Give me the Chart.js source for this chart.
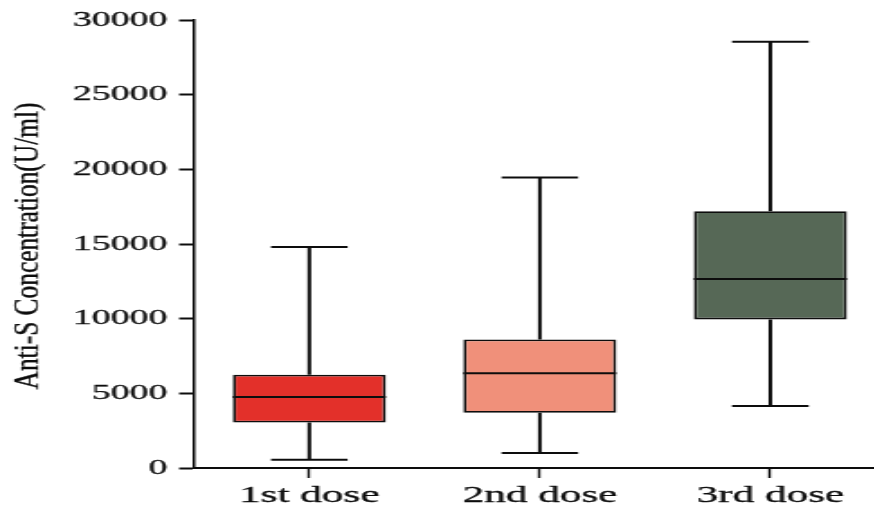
<!DOCTYPE html>
<html>
<head>
<meta charset="utf-8">
<script src="https://cdn.jsdelivr.net/npm/chart.js@4/dist/chart.umd.min.js"></script>
<style>
  html, body { margin: 0; padding: 0; background: #fff; overflow: hidden; width: 874px; height: 508px; }
  #wrap { position: absolute; left: 0; top: 0; transform: scaleX(1.8); transform-origin: 0 0; }
  canvas { display: block; }
</style>
</head>
<body>
<div id="wrap"><canvas id="c" width="493" height="508"></canvas></div>
<script>
// Anti-S antibody concentration (U/ml) by vaccine dose
const categories = ['1st dose', '2nd dose', '3rd dose'];
const whiskerLow = [550, 1000, 4150];
const quartile1 = [3050, 3700, 9950];
const medians = [4750, 6350, 12650];
const quartile3 = [6250, 8600, 17200];
const whiskerHigh = [14800, 19450, 28550];
const yTickValues = [0, 5000, 10000, 15000, 20000, 25000, 30000];
const boxColors = ['#E3302A', '#F0907A', '#566856'];
const yTitle = 'Anti-S Concentration(U/ml)';

const ink = '#0d0d0d';
const serif = "'Liberation Serif', 'Times New Roman', serif";

// whiskers and caps behind the boxes, medians on top
const boxPlotParts = {
  id: 'boxPlotParts',
  beforeDatasetsDraw(chart) {
    const y = chart.scales.y;
    const meta = chart.getDatasetMeta(0);
    const ctx = chart.ctx;
    ctx.save();
    ctx.strokeStyle = ink;
    meta.data.forEach((bar, i) => {
      const cx = bar.x;
      const capHalf = bar.width / 4;
      const pLow = y.getPixelForValue(whiskerLow[i]);
      const pQ1 = y.getPixelForValue(quartile1[i]);
      const pQ3 = y.getPixelForValue(quartile3[i]);
      const pHigh = y.getPixelForValue(whiskerHigh[i]);
      ctx.lineWidth = 2;
      ctx.beginPath();
      ctx.moveTo(cx, pQ3); ctx.lineTo(cx, pHigh);
      ctx.moveTo(cx, pQ1); ctx.lineTo(cx, pLow);
      ctx.stroke();
      ctx.lineWidth = 2;
      ctx.beginPath();
      ctx.moveTo(cx - capHalf, pHigh); ctx.lineTo(cx + capHalf, pHigh);
      ctx.moveTo(cx - capHalf, pLow); ctx.lineTo(cx + capHalf, pLow);
      ctx.stroke();
    });
    ctx.restore();
  },
  afterDatasetsDraw(chart) {
    const y = chart.scales.y;
    const meta = chart.getDatasetMeta(0);
    const ctx = chart.ctx;
    ctx.save();
    ctx.strokeStyle = ink;
    ctx.lineWidth = 2;
    meta.data.forEach((bar, i) => {
      const pMed = y.getPixelForValue(medians[i]);
      ctx.beginPath();
      ctx.moveTo(bar.x - bar.width / 2, pMed);
      ctx.lineTo(bar.x + bar.width / 2, pMed);
      ctx.stroke();
    });
    ctx.restore();
  }
};

// condensed vertical axis title
const axisTitle = {
  id: 'axisTitle',
  afterDraw(chart) {
    const ctx = chart.ctx;
    const area = chart.chartArea;
    ctx.save();
    ctx.translate(16.3, (area.top + area.bottom) / 2 + 2);
    ctx.rotate(-Math.PI / 2);
    ctx.scale(1.41, 1);
    ctx.font = "18px " + serif;
    ctx.fillStyle = ink;
    ctx.strokeStyle = ink;
    ctx.lineWidth = 0.25;
    ctx.textAlign = 'center';
    ctx.textBaseline = 'middle';
    ctx.fillText(yTitle, 0, 0);
    ctx.strokeText(yTitle, 0, 0);
    ctx.restore();
  }
};

new Chart(document.getElementById('c'), {
  type: 'bar',
  data: {
    labels: categories,
    datasets: [{
      data: categories.map((_, i) => [quartile1[i], quartile3[i]]),
      backgroundColor: boxColors,
      borderColor: ink,
      borderWidth: 1.8,
      borderSkipped: false,
      barPercentage: 0.664,
      categoryPercentage: 1
    }]
  },
  options: {
    responsive: false,
    animation: false,
    layout: { padding: { top: 20, right: 1, left: 0, bottom: 0 } },
    plugins: { legend: { display: false }, tooltip: { enabled: false } },
    scales: {
      x: {
        offset: true,
        grid: { display: true, drawOnChartArea: false, drawTicks: true, tickLength: 10, tickWidth: 1.4, tickColor: ink, offset: false },
        border: { display: true, color: ink, width: 2 },
        ticks: { color: ink, font: { family: serif, size: 24 }, padding: 3, maxRotation: 0, textStrokeColor: ink, textStrokeWidth: 0.3 },
        afterFit(scale) { scale.height = 40; }
      },
      y: {
        min: 0,
        max: 30000,
        afterBuildTicks(scale) { scale.ticks = yTickValues.map(v => ({ value: v })); },
        grid: { display: true, drawOnChartArea: false, drawTicks: true, tickLength: 8.3, tickWidth: 2, tickColor: ink },
        border: { display: true, color: ink, width: 1.5 },
        ticks: { color: ink, font: { family: serif, size: 21 }, padding: 6.5, callback: v => String(v), textStrokeColor: ink, textStrokeWidth: 0.3 },
        afterFit(scale) { scale.width = 107.8; }
      }
    }
  },
  plugins: [boxPlotParts, axisTitle]
});
</script>
</body>
</html>
